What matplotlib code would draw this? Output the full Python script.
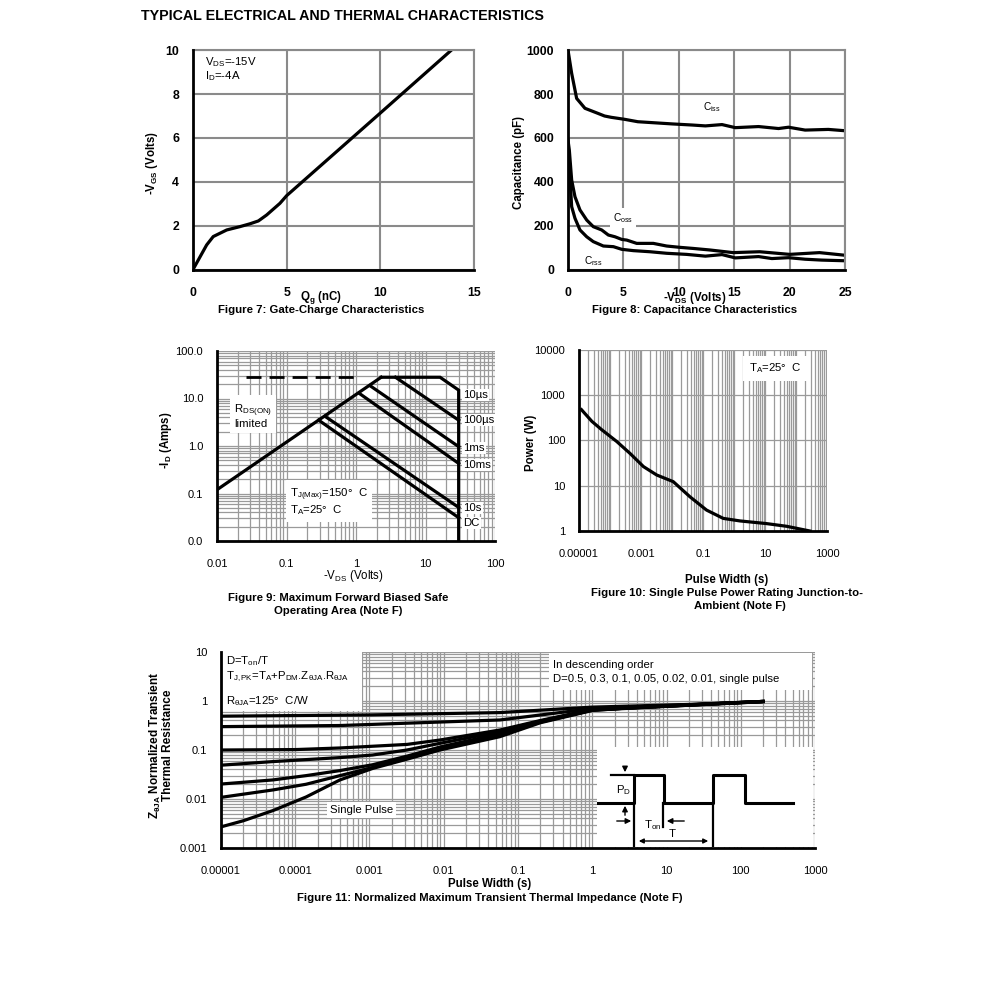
import numpy as np
import matplotlib.pyplot as plt
from matplotlib.ticker import LogLocator, NullFormatter
from matplotlib.patches import Rectangle

plt.rcParams['font.family'] = ['Liberation Sans', 'DejaVu Sans']
plt.rcParams['mathtext.fontset'] = 'custom'
plt.rcParams['mathtext.rm'] = 'Liberation Sans'
plt.rcParams['mathtext.bf'] = 'Liberation Sans:bold'
plt.rcParams['mathtext.it'] = 'Liberation Sans:italic'

# ---- Figure 7: gate charge
qg = [0, 0.28, 0.73, 1.08, 1.8, 2.5, 3.04, 3.49, 3.93, 4.64, 5.0, 9.98, 13.8]
vgs = [0.02, 0.45, 1.14, 1.52, 1.82, 1.97, 2.1, 2.23, 2.5, 3.03, 3.38, 7.12, 10.0]

# ---- Figure 8: capacitance
vds_ciss = [0, 0.33, 0.78, 1.53, 2.7, 3.3, 3.9, 5.1, 6.3, 9.4, 11.2, 12.4, 13.9,
            15.1, 17.2, 19, 19.9, 21.4, 23.5, 25]
ciss = [1000, 894, 780, 735, 712, 700, 694, 685, 674, 664, 659, 655, 661,
        647, 652, 643, 649, 636, 639, 633]
vds_coss = [0, 0.12, 0.33, 0.63, 1.08, 1.69, 2.28, 3.04, 3.64, 4.24, 4.85, 5.3,
            6.2, 7.7, 8.9, 10.1, 11.3, 12.8, 14.9, 17.3, 20, 22.7, 25]
coss = [590, 545, 409, 333, 273, 227, 197, 182, 159, 151, 139, 136,
        121, 121, 109, 103, 98, 91, 79, 83, 71, 79, 67]
vds_crss = [0, 0.12, 0.33, 0.63, 1.08, 1.69, 2.28, 3.19, 4.1, 4.85, 5.9, 7.4,
            8.9, 10.7, 12.4, 13.9, 15.1, 17.2, 18.4, 19.9, 21.4, 22.9, 25]
crss = [560, 470, 288, 235, 182, 151, 129, 109, 106, 94, 88, 83,
        76, 71, 63, 70, 55, 61, 52, 56, 49, 45, 42]

# ---- Figure 9: safe operating area
soa_lines = {
    'rds': ([0.01, 2.3], [0.12, 28]),
    '10us': ([2.3, 16.2, 30, 30], [28, 28, 15, 0.01]),
    '100us': ([3.7, 30], [28, 3.5]),
    '1ms': ([1.6, 30], [18.5, 0.97]),
    '10ms': ([1.1, 30], [13, 0.43]),
    '10s': ([0.36, 30], [4.2, 0.051]),
    'DC': ([0.29, 30], [3.5, 0.031]),
}
lim_v = [0.026, 1.0]
lim_i = [28, 28]
soa_labels = ['10\u00b5s', '100\u00b5s', '1ms', '10ms', '10s', 'DC']
soa_label_y = [0.768, 0.637, 0.489, 0.40, 0.174, 0.095]

# ---- Figure 10: single pulse power
tp = [1.2e-5, 2.6e-5, 5.4e-5, 1.65e-4, 4.4e-4, 1.2e-3, 3.2e-3, 0.011, 0.038,
      0.13, 0.45, 1.55, 11, 50, 280]
pw = [480, 265, 173, 95, 52, 26.5, 17.3, 12.3, 5.7, 2.9, 1.9, 1.67, 1.46, 1.27, 1.0]

# ---- Figure 11: transient thermal impedance
zt_d05 = ([1e-5, 1e-3, 0.057, 1, 20, 200], [0.49, 0.52, 0.58, 0.75, 0.85, 0.98])
zt_d03 = ([1e-5, 4e-4, 0.057, 1, 20, 200], [0.30, 0.316, 0.41, 0.70, 0.84, 0.98])
zt_d01 = ([1e-5, 1e-4, 4e-4, 3.2e-3, 8.9e-3, 0.057, 0.2, 1, 20, 200],
          [0.10, 0.102, 0.11, 0.13, 0.16, 0.256, 0.40, 0.67, 0.83, 0.98])
zt_d005 = ([1e-5, 5e-5, 4e-4, 1.1e-3, 3.2e-3, 8.9e-3, 0.057, 0.2, 1, 20, 200],
           [0.049, 0.058, 0.07, 0.079, 0.10, 0.137, 0.236, 0.39, 0.66, 0.83, 0.98])
zt_d002 = ([1e-5, 5e-5, 1.4e-4, 4e-4, 1.1e-3, 3.2e-3, 8.9e-3, 0.057, 0.2, 1, 20, 200],
           [0.0202, 0.0245, 0.03, 0.038, 0.05, 0.075, 0.115, 0.216, 0.38, 0.66, 0.83, 0.98])
zt_d001 = ([1e-5, 5e-5, 1.4e-4, 4e-4, 1.1e-3, 3.2e-3, 8.9e-3, 0.057, 0.2, 1, 20, 200],
           [0.0108, 0.0153, 0.02, 0.03, 0.044, 0.07, 0.105, 0.2, 0.37, 0.65, 0.82, 0.97])
zt_single = ([1e-5, 2e-5, 5e-5, 1.4e-4, 4e-4, 1.1e-3, 3.2e-3, 8.9e-3, 0.057, 0.2, 1, 3, 20, 200],
             [0.0027, 0.0036, 0.0058, 0.011, 0.0245, 0.042, 0.065, 0.1, 0.187, 0.36, 0.64, 0.72, 0.82, 0.97])
zt_curves = [zt_d05, zt_d03, zt_d01, zt_d005, zt_d002, zt_d001, zt_single]

# inset pulse sketch (inset units)
pulse_x = [1, 37, 37, 67, 67, 116, 116, 148, 148, 196]
pulse_y = [56, 56, 28, 28, 56, 56, 28, 28, 56, 56]

W, H = 991, 986
TICK = 8          # normal tick labels
TICKB = 8.8       # bold tick labels (fig 7, 8)
NOTE = 8.2        # annotations
LAB = 8.3         # axis labels
CAP = 8.2         # captions


def box(x0, y0, x1, y1):
    return [x0 / W, 1 - y1 / H, (x1 - x0) / W, (y1 - y0) / H]


def ftext(x, y, s, **kw):
    fig.text(x / W, 1 - y / H, s, **kw)


def frame(ax, pad_x, pad_y, size):
    for s in ['left', 'bottom']:
        ax.spines[s].set_linewidth(2)
        ax.spines[s].set_zorder(6)
    for s in ['top', 'right']:
        ax.spines[s].set_visible(False)
    ax.tick_params(which='both', length=0, labelsize=size)
    ax.tick_params(axis='x', pad=pad_x)
    ax.tick_params(axis='y', pad=pad_y)
    ax.set_axisbelow(True)


fig = plt.figure(figsize=(9.91, 9.86), dpi=100)
ftext(141, 16, 'TYPICAL ELECTRICAL AND THERMAL CHARACTERISTICS',
      fontsize=10.3, fontweight='bold', va='center')

LW = 2.3
grey = '#8a8a8a'

# ---------------- Figure 7
ax7 = fig.add_axes(box(193, 50, 474, 270))
ax7.plot(qg, vgs, color='k', lw=LW)
ax7.set_xlim(0, 15)
ax7.set_ylim(0, 10)
ax7.set_xticks([0, 5, 10, 15])
ax7.set_yticks([0, 2, 4, 6, 8, 10])
frame(ax7, 12, 10, TICKB)
ax7.grid(color=grey, lw=1.5)
for s in ['top', 'right']:
    ax7.spines[s].set_visible(True)
    ax7.spines[s].set_color(grey)
    ax7.spines[s].set_linewidth(1.5)
for lab in ax7.get_xticklabels() + ax7.get_yticklabels():
    lab.set_fontweight('bold')
ax7.text(0.043, 0.975, 'V$_{\\rm DS}$=-15V\nI$_{\\rm D}$=-4A', transform=ax7.transAxes,
         fontsize=NOTE, va='top', linespacing=1.0)
ftext(152, 163, '-V$_{\\mathbf{GS}}$ (Volts)', rotation=90, ha='center', va='center',
      fontsize=LAB, fontweight='bold')
ftext(321, 297, 'Q$_{\\mathbf{g}}$ (nC)', ha='center', va='center', fontsize=LAB, fontweight='bold')
ftext(321, 310, 'Figure 7: Gate-Charge Characteristics', ha='center', va='center',
      fontsize=CAP, fontweight='bold')

# ---------------- Figure 8
ax8 = fig.add_axes(box(568, 50, 845, 270))
ax8.plot(vds_ciss, ciss, color='k', lw=LW)
ax8.plot(vds_coss, coss, color='k', lw=LW)
ax8.plot(vds_crss, crss, color='k', lw=LW)
ax8.set_xlim(0, 25)
ax8.set_ylim(0, 1000)
ax8.set_xticks([0, 5, 10, 15, 20, 25])
ax8.set_yticks([0, 200, 400, 600, 800, 1000])
frame(ax8, 12, 10, TICKB)
ax8.grid(color=grey, lw=1.5)
for s in ['top', 'right']:
    ax8.spines[s].set_visible(True)
    ax8.spines[s].set_color(grey)
    ax8.spines[s].set_linewidth(1.5)
for lab in ax8.get_xticklabels() + ax8.get_yticklabels():
    lab.set_fontweight('bold')
ax8.text(0.52, 0.741, 'C$_{\\rm iss}$', transform=ax8.transAxes, fontsize=7.3, ha='center', va='center')
ax8.text(0.199, 0.236, 'C$_{\\rm oss}$', transform=ax8.transAxes, fontsize=7.3, ha='center', va='center',
         bbox=dict(facecolor='white', edgecolor='none', pad=2))
ax8.text(0.09, 0.04, 'C$_{\\rm rss}$', transform=ax8.transAxes, fontsize=7.3, ha='center', va='center')
ftext(519, 162, 'Capacitance (pF)', rotation=90, ha='center', va='center',
      fontsize=LAB, fontweight='bold')
ftext(695, 298, '-V$_{\\mathbf{DS}}$ (Volts)', ha='center', va='center', fontsize=LAB, fontweight='bold')
ftext(695, 310, 'Figure 8: Capacitance Characteristics', ha='center', va='center',
      fontsize=CAP, fontweight='bold')

# ---------------- Figure 9
ax9 = fig.add_axes(box(217, 351, 495, 541))
ax9.set_xscale('log')
ax9.set_yscale('log')
for key, (v, i) in soa_lines.items():
    ax9.plot(v, i, color='k', lw=LW, solid_joinstyle='miter')
ax9.plot(lim_v, lim_i, color='k', lw=2, dashes=(5.4, 2.9))
ax9.set_xlim(0.01, 100)
ax9.set_ylim(0.01, 100)
ax9.set_xticks([0.01, 0.1, 1, 10, 100])
ax9.set_xticklabels(['0.01', '0.1', '1', '10', '100'])
ax9.set_yticks([0.01, 0.1, 1, 10, 100])
ax9.set_yticklabels(['0.0', '0.1', '1.0', '10.0', '100.0'])
for a in (ax9.xaxis, ax9.yaxis):
    a.set_minor_locator(LogLocator(base=10, subs=np.arange(2, 10), numticks=100))
    a.set_minor_formatter(NullFormatter())
frame(ax9, 13, 10, TICK)
ax9.grid(which='both', color='#9a9a9a', lw=0.9)
for lab, yy in zip(soa_labels, soa_label_y):
    ax9.text(0.885, yy, lab, transform=ax9.transAxes, fontsize=NOTE, va='center', zorder=4,
             bbox=dict(facecolor='white', edgecolor='none', pad=1))
ax9.text(0.061, 0.658, 'R$_{\\rm DS(ON)}$\nlimited', transform=ax9.transAxes, fontsize=NOTE,
         va='center', linespacing=0.95, zorder=4,
         bbox=dict(facecolor='white', edgecolor='none', pad=3))
ax9.text(0.263, 0.205, 'T$_{\\rm J(Max)}$=150\u00b0  C\nT$_{\\rm A}$=25\u00b0  C', transform=ax9.transAxes,
         fontsize=NOTE, va='center', linespacing=1.05, zorder=4,
         bbox=dict(facecolor='white', edgecolor='none', pad=3))
ftext(166, 440, '-I$_{\\mathbf{D}}$ (Amps)', rotation=90, ha='center', va='center',
      fontsize=LAB, fontweight='bold')
ftext(353, 576, '-V$_{\\rm DS}$ (Volts)', ha='center', va='center', fontsize=LAB)
ftext(338, 598, 'Figure 9: Maximum Forward Biased Safe', ha='center', va='center',
      fontsize=CAP, fontweight='bold')
ftext(338, 611, 'Operating Area (Note F)', ha='center', va='center',
      fontsize=CAP, fontweight='bold')

# ---------------- Figure 10
ax10 = fig.add_axes(box(579, 350, 827, 531))
ax10.set_xscale('log')
ax10.set_yscale('log')
ax10.plot(tp, pw, color='k', lw=LW)
ax10.set_xlim(1e-5, 1000)
ax10.set_ylim(1, 10000)
ax10.set_xticks([1e-5, 1e-3, 1e-1, 10, 1000])
ax10.set_xticklabels(['0.00001', '0.001', '0.1', '10', '1000'])
ax10.set_yticks([1, 10, 100, 1000, 10000])
ax10.set_yticklabels(['1', '10', '100', '1000', '10000'])
ax10.xaxis.set_minor_locator(LogLocator(base=10, subs=np.arange(1, 10), numticks=100))
ax10.xaxis.set_minor_formatter(NullFormatter())
ax10.yaxis.set_minor_formatter(NullFormatter())
frame(ax10, 13, 10, TICK)
ax10.grid(which='both', axis='x', color='#9a9a9a', lw=0.9)
ax10.grid(which='major', axis='y', color='#9a9a9a', lw=0.9)
ax10.text(0.685, 0.90, 'T$_{\\rm A}$=25\u00b0  C', transform=ax10.transAxes, fontsize=NOTE,
          va='center', zorder=4, bbox=dict(facecolor='white', edgecolor='none', pad=4))
ftext(531, 443, 'Power (W)', rotation=90, ha='center', va='center',
      fontsize=LAB, fontweight='bold')
ftext(727, 580, 'Pulse Width (s)', ha='center', va='center', fontsize=LAB, fontweight='bold')
ftext(727, 593, 'Figure 10: Single Pulse Power Rating Junction-to-', ha='center', va='center',
      fontsize=CAP, fontweight='bold')
ftext(740, 606, 'Ambient (Note F)', ha='center', va='center', fontsize=CAP, fontweight='bold')

# ---------------- Figure 11
ax11 = fig.add_axes(box(221, 652, 815, 848))
ax11.set_xscale('log')
ax11.set_yscale('log')
for xs, ys in zt_curves:
    ax11.plot(xs, ys, color='k', lw=LW, zorder=3)
ax11.set_xlim(1e-5, 1000)
ax11.set_ylim(0.001, 10)
ax11.set_xticks([1e-5, 1e-4, 1e-3, 1e-2, 1e-1, 1, 10, 100, 1000])
ax11.set_xticklabels(['0.00001', '0.0001', '0.001', '0.01', '0.1', '1', '10', '100', '1000'])
ax11.set_yticks([0.001, 0.01, 0.1, 1, 10])
ax11.set_yticklabels(['0.001', '0.01', '0.1', '1', '10'])
for a in (ax11.xaxis, ax11.yaxis):
    a.set_minor_locator(LogLocator(base=10, subs=np.arange(2, 10), numticks=100))
    a.set_minor_formatter(NullFormatter())
frame(ax11, 13, 10, TICK)
ax11.grid(which='both', color='#9a9a9a', lw=0.9)
ax11.add_patch(Rectangle((0.0, 0.699), 0.237, 0.30, transform=ax11.transAxes,
                         facecolor='white', edgecolor='none', zorder=2))
ax11.add_patch(Rectangle((0.552, 0.806), 0.443, 0.19, transform=ax11.transAxes,
                         facecolor='white', edgecolor='none', zorder=2))
ax11.text(0.009, 0.955, 'D=T$_{\\rm on}$/T', transform=ax11.transAxes, fontsize=NOTE, va='center', zorder=4)
ax11.text(0.009, 0.873, 'T$_{\\rm J,PK}$=T$_{\\rm A}$+P$_{\\rm DM}$.Z$_{\\rm \u03b8JA}$.R$_{\\rm \u03b8JA}$',
          transform=ax11.transAxes, fontsize=NOTE, va='center', zorder=4)
ax11.text(0.009, 0.75, 'R$_{\\rm \u03b8JA}$=125\u00b0  C/W', transform=ax11.transAxes,
          fontsize=NOTE, va='center', zorder=4)
ax11.text(0.559, 0.934, 'In descending order', transform=ax11.transAxes, fontsize=NOTE,
          va='center', zorder=4)
ax11.text(0.559, 0.862, 'D=0.5, 0.3, 0.1, 0.05, 0.02, 0.01, single pulse',
          transform=ax11.transAxes, fontsize=NOTE, va='center', zorder=4)
ax11.text(0.237, 0.194, 'Single Pulse', transform=ax11.transAxes, fontsize=NOTE,
          ha='center', va='center', zorder=4,
          bbox=dict(facecolor='white', edgecolor='none', pad=2))
ftext(161, 745, 'Z$_{\\mathbf{\u03b8JA}}$ Normalized Transient\nThermal Resistance', rotation=90,
      ha='center', va='center', fontsize=8.5, fontweight='bold', linespacing=0.95)
ftext(490, 884, 'Pulse Width (s)', ha='center', va='center', fontsize=LAB, fontweight='bold')
ftext(490, 898, 'Figure 11: Normalized Maximum Transient Thermal Impedance (Note F)',
      ha='center', va='center', fontsize=CAP, fontweight='bold')

# inset pulse sketch
axp = fig.add_axes(box(597, 747, 813, 847))
axp.set_xlim(0, 216)
axp.set_ylim(100, 0)
axp.axis('off')
axp.add_patch(Rectangle((0, 0), 216, 100, facecolor='white', edgecolor='none'))
axp.plot(pulse_x, pulse_y, color='k', lw=2.2)
axp.plot([14, 37], [28, 28], color='k', lw=1.6)
axp.plot([37, 37], [56, 100], color='k', lw=1.6)
axp.plot([116, 116], [56, 100], color='k', lw=1.6)
axp.plot([66, 66], [56, 80], color='k', lw=1.6)
arrow = dict(arrowstyle='-|>', color='k', lw=1, mutation_scale=8)
axp.annotate('', xy=(28, 28), xytext=(28, 17), arrowprops=arrow)
axp.annotate('', xy=(28, 56), xytext=(28, 71), arrowprops=arrow)
axp.annotate('', xy=(37, 74), xytext=(17, 74), arrowprops=arrow)
axp.annotate('', xy=(67, 74), xytext=(90, 74), arrowprops=arrow)
axp.annotate('', xy=(39, 94), xytext=(114, 94),
             arrowprops=dict(arrowstyle='<|-|>', color='k', lw=1, mutation_scale=7))
axp.text(27, 43, 'P$_{\\rm D}$', fontsize=NOTE, ha='center', va='center')
axp.text(56, 78, 'T$_{\\rm on}$', fontsize=NOTE, ha='center', va='center')
axp.text(75, 87, 'T', fontsize=NOTE, ha='center', va='center')

fig.savefig('out.png', dpi=100)
